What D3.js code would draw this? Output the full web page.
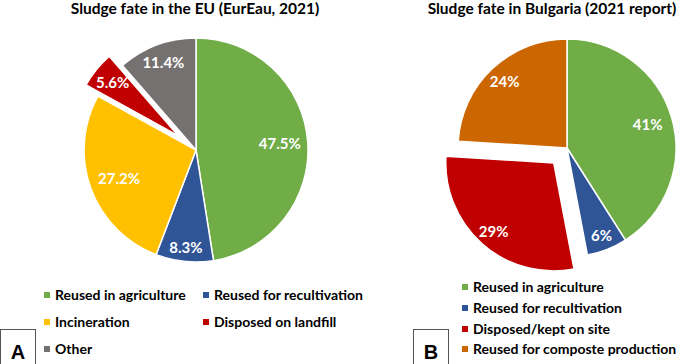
<!DOCTYPE html>
<html>
<head>
<meta charset="utf-8">
<script src="https://cdn.jsdelivr.net/npm/d3@7"></script>
<style>
  body { margin: 0; background: #fff; }
  text { font-family: Lato, "Noto Sans", sans-serif; font-weight: bold; }
</style>
</head>
<body>
<div id="chart"></div>
<script>
const width = 685
const height = 364

// Datos panel A (EU)
const euTitle = "Sludge fate in the EU (EurEau, 2021)"
const euCategories = ["Reused in agriculture", "Reused for recultivation", "Incineration", "Disposed on landfill", "Other"]
const euValues = [47.5, 8.3, 27.2, 5.6, 11.4]
const euLabels = ["47.5%", "8.3%", "27.2%", "5.6%", "11.4%"]
const euExploded = "Disposed on landfill"

// Datos panel B (Bulgaria)
const bgTitle = "Sludge fate in Bulgaria (2021 report)"
const bgCategories = ["Reused in agriculture", "Reused for recultivation", "Disposed/kept on site", "Reused for composte production"]
const bgValues = [41, 6, 29, 24]
const bgLabels = ["41%", "6%", "29%", "24%"]
const bgExploded = "Disposed/kept on site"

const colors = {
  "Reused in agriculture": "#70ad47",
  "Reused for recultivation": "#2f5597",
  "Incineration": "#ffc000",
  "Disposed on landfill": "#c00000",
  "Other": "#767171",
  "Disposed/kept on site": "#c00000",
  "Reused for composte production": "#cc6600"
}

const svg = d3.select("div#chart")
  .append("svg")
  .attr("width", width)
  .attr("height", height)

const pie = d3.pie().sort(null).value(d => d.value)

function drawPie(cfg) {
  const data = cfg.categories.map((c, i) => ({ name: c, value: cfg.values[i], label: cfg.labels[i] }))
  const arcs = pie(data)

  const g = svg.append("g")
    .attr("transform", `translate(${cfg.cx}, ${cfg.cy})`)

  const slice = g.selectAll("g.slice").data(arcs)
    .join("g")
    .attr("class", "slice")
    .attr("transform", d => {
      if (d.data.name !== cfg.exploded) return null
      const a = (d.startAngle + d.endAngle) / 2
      return `translate(${Math.sin(a) * cfg.offset}, ${-Math.cos(a) * cfg.offset})`
    })

  slice.append("path")
    .attr("d", d => d3.arc().innerRadius(0)
      .outerRadius(d.data.name === cfg.exploded ? cfg.rExploded : cfg.r)(d))
    .attr("fill", d => colors[d.data.name])
    .attr("stroke", "#fff")
    .attr("stroke-width", 1.5)

  slice.append("text")
    .attr("transform", (d, i) => {
      const a = (d.startAngle + d.endAngle) / 2
      const lr = cfg.labelR[i]
      return `translate(${Math.sin(a) * lr}, ${-Math.cos(a) * lr})`
    })
    .attr("text-anchor", "middle")
    .attr("dy", "0.36em")
    .attr("fill", "#fff")
    .style("font-size", "15px")
    .text(d => d.data.label)

  svg.append("text")
    .attr("x", cfg.titleX)
    .attr("y", 14)
    .attr("text-anchor", "middle")
    .style("font-size", "15.5px")
    .attr("fill", "#000")
    .text(cfg.title)
}

drawPie({
  title: euTitle, titleX: 195,
  categories: euCategories, values: euValues, labels: euLabels,
  exploded: euExploded,
  cx: 196, cy: 150, r: 112, rExploded: 105, offset: 23,
  labelR: [84, 98, 82, 84, 93]
})

drawPie({
  title: bgTitle, titleX: 552,
  categories: bgCategories, values: bgValues, labels: bgLabels,
  exploded: bgExploded,
  cx: 567, cy: 148, r: 109, rExploded: 108, offset: 20,
  labelR: [84, 94, 91, 91]
})

// Leyendas
function addLegend(items, positions) {
  const lg = svg.append("g").selectAll("g").data(items)
    .join("g")
    .attr("transform", (d, i) => `translate(${positions[i][0]}, ${positions[i][1]})`)
  lg.append("rect")
    .attr("x", -3).attr("y", -3)
    .attr("width", 6).attr("height", 6)
    .attr("fill", d => colors[d])
  lg.append("text")
    .attr("x", 8)
    .attr("dy", "0.36em")
    .style("font-size", "14px")
    .attr("fill", "#000")
    .text(d => d)
}

addLegend(euCategories, [[47, 295], [206, 295], [47, 322], [206, 322], [47, 349]])
addLegend(bgCategories, [[465, 287], [465, 308], [465, 329], [465, 349]])

// Cajas A / B
function addTag(letter, x) {
  svg.append("rect")
    .attr("x", x + 0.5).attr("y", 329.5)
    .attr("width", 35).attr("height", 45)
    .attr("fill", "none")
    .attr("stroke", "#555")
    .attr("stroke-width", 1)
  svg.append("text")
    .attr("x", x + 18).attr("y", 359)
    .attr("text-anchor", "middle")
    .style("font-family", "'Liberation Sans', Arial, sans-serif")
    .style("font-size", "20px")
    .text(letter)
}
addTag("A", 0)
addTag("B", 413)
</script>
</body>
</html>
